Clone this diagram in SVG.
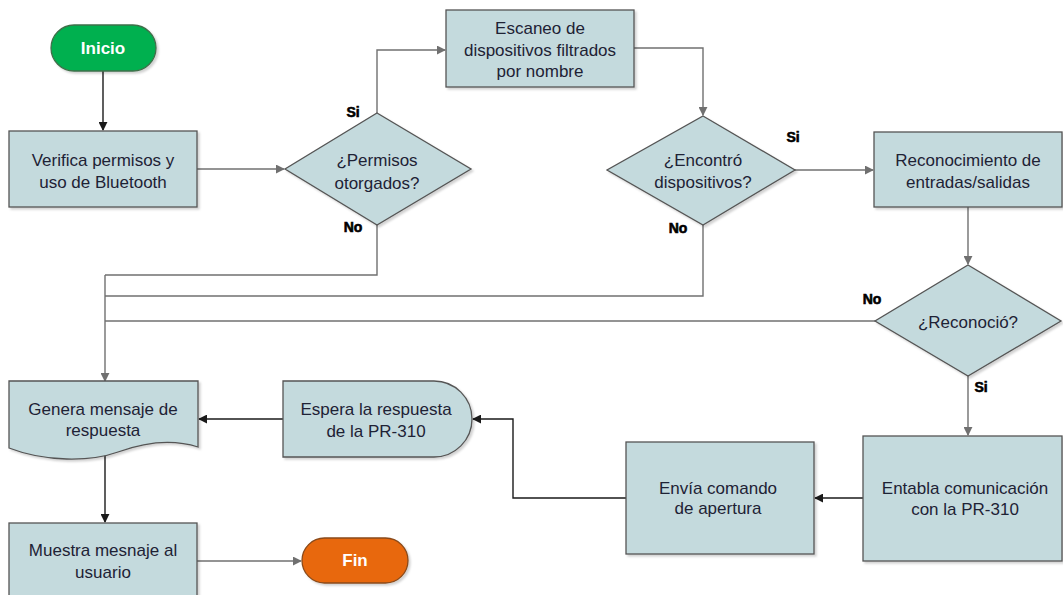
<svg xmlns="http://www.w3.org/2000/svg" width="1063" height="595" viewBox="0 0 1063 595">
  <defs>
    <marker id="ahGray" viewBox="0 0 10 10" refX="9" refY="5" markerWidth="9" markerHeight="9" markerUnits="userSpaceOnUse" orient="auto">
      <path d="M0,0 L10,5 L0,10 z" fill="#707070"/>
    </marker>
    <marker id="ahBlack" viewBox="0 0 10 10" refX="9" refY="5" markerWidth="9" markerHeight="9" markerUnits="userSpaceOnUse" orient="auto">
      <path d="M0,0 L10,5 L0,10 z" fill="#1a1a1a"/>
    </marker>
    <filter id="shadow" x="-10%" y="-10%" width="130%" height="130%">
      <feDropShadow dx="2" dy="2" stdDeviation="1" flood-color="#000" flood-opacity="0.18"/>
    </filter>
  </defs>
  <style>
    .box { fill: #c4dadd; stroke: #555; stroke-width: 1.3; filter: url(#shadow); }
    .t { font-family: "Liberation Sans", Arial, sans-serif; font-size: 17px; fill: #1e2235; text-anchor: middle; }
    .term { font-family: "Liberation Sans", Arial, sans-serif; font-size: 17px; font-weight: bold; fill: #ffffff; text-anchor: middle; }
    .lbl { font-family: "Liberation Sans", Arial, sans-serif; font-size: 14px; font-weight: bold; fill: #000; stroke: #000; stroke-width: 0.6; text-anchor: middle; }
    .cg { fill: none; stroke: #707070; stroke-width: 1.4; }
    .cb { fill: none; stroke: #1a1a1a; stroke-width: 1.4; }
  </style>

  <rect width="1063" height="595" fill="#ffffff"/>

  <!-- connectors -->
  <g id="connectors">
    <path class="cb" d="M103,71 L103,130" marker-end="url(#ahBlack)"/>
    <path class="cg" d="M197,169 L284,169" marker-end="url(#ahGray)"/>
    <path class="cg" d="M377,113 L377,50 L445,50" marker-end="url(#ahGray)"/>
    <path class="cg" d="M634,48 L703,48 L703,115" marker-end="url(#ahGray)"/>
    <path class="cg" d="M795,170 L873,170" marker-end="url(#ahGray)"/>
    <path class="cg" d="M968,207 L968,264" marker-end="url(#ahGray)"/>
    <path class="cg" d="M968,375 L968,435" marker-end="url(#ahGray)"/>
    <path class="cg" d="M377,225 L377,275 L105,275"/>
    <path class="cg" d="M703,225 L703,296 L105,296"/>
    <path class="cg" d="M875,321 L105,321"/>
    <path class="cg" d="M105,275 L105,381" marker-end="url(#ahGray)"/>
    <path class="cb" d="M863,498 L815,498" marker-end="url(#ahBlack)"/>
    <path class="cb" d="M626,498 L513,498 L513,419 L473,419" marker-end="url(#ahBlack)"/>
    <path class="cb" d="M283,419 L199,419" marker-end="url(#ahBlack)"/>
    <path class="cb" d="M105,455 L105,522" marker-end="url(#ahBlack)"/>
    <path class="cg" d="M197,561 L301,561" marker-end="url(#ahGray)"/>

    <text class="lbl" x="353" y="117">Si</text>
    <text class="lbl" x="353" y="232">No</text>
    <text class="lbl" x="793" y="142">Si</text>
    <text class="lbl" x="678" y="233">No</text>
    <text class="lbl" x="872" y="304">No</text>
    <text class="lbl" x="981" y="392">Si</text>
  </g>

  <g id="inicio">
    <rect x="51" y="25" width="105" height="46" rx="23" fill="#00b050" stroke="#3f6f4a" stroke-width="1.3" filter="url(#shadow)"/>
    <text class="term" x="103" y="54">Inicio</text>
  </g>

  <g id="verifica">
    <rect class="box" x="9" y="131" width="188" height="76"/>
    <text class="t" x="103" y="166">Verifica permisos y</text>
    <text class="t" x="103" y="188">uso de Bluetooth</text>
  </g>

  <g id="permisos">
    <polygon class="box" points="377,113 471,169 377,225 285,169"/>
    <text class="t" x="377" y="166">¿Permisos</text>
    <text class="t" x="377" y="189">otorgados?</text>
  </g>

  <g id="escaneo">
    <rect class="box" x="446" y="10" width="188" height="77"/>
    <text class="t" x="540" y="34">Escaneo de</text>
    <text class="t" x="540" y="56">dispositivos filtrados</text>
    <text class="t" x="540" y="77">por nombre</text>
  </g>

  <g id="encontro">
    <polygon class="box" points="703,116 795,170 703,225 607,170"/>
    <text class="t" x="703" y="166">¿Encontró</text>
    <text class="t" x="703" y="188">dispositivos?</text>
  </g>

  <g id="reconocimiento">
    <rect class="box" x="874" y="132" width="188" height="75"/>
    <text class="t" x="968" y="166">Reconocimiento de</text>
    <text class="t" x="968" y="188">entradas/salidas</text>
  </g>

  <g id="reconocio">
    <polygon class="box" points="968,265 1061,321 968,376 875,321"/>
    <text class="t" x="968" y="328">¿Reconoció?</text>
  </g>

  <g id="entabla">
    <rect class="box" x="863" y="436" width="199" height="125"/>
    <text class="t" x="965" y="494">Entabla comunicación</text>
    <text class="t" x="965" y="515">con la PR-310</text>
  </g>

  <g id="envia">
    <rect class="box" x="626" y="442" width="188" height="112"/>
    <text class="t" x="718" y="494">Envía comando</text>
    <text class="t" x="718" y="514">de apertura</text>
  </g>

  <g id="espera">
    <path class="box" d="M283,381 L434,381 A38,38 0 0 1 434,457 L283,457 Z"/>
    <text class="t" x="376" y="415">Espera la respuesta</text>
    <text class="t" x="376" y="437">de la PR-310</text>
  </g>

  <g id="genera">
    <path class="box" d="M9,381 L198,381 L198,447 C170,438 140,444 118,452 C90,462 45,462 9,448 Z"/>
    <text class="t" x="103" y="415">Genera mensaje de</text>
    <text class="t" x="103" y="436">respuesta</text>
  </g>

  <g id="muestra">
    <rect class="box" x="9" y="523" width="188" height="80"/>
    <text class="t" x="103" y="556">Muestra mesnaje al</text>
    <text class="t" x="103" y="578">usuario</text>
  </g>

  <g id="fin">
    <rect x="302" y="538" width="106" height="45" rx="22.5" fill="#e8680a" stroke="#8a4a1a" stroke-width="1.3" filter="url(#shadow)"/>
    <text class="term" x="355" y="566">Fin</text>
  </g>
</svg>
